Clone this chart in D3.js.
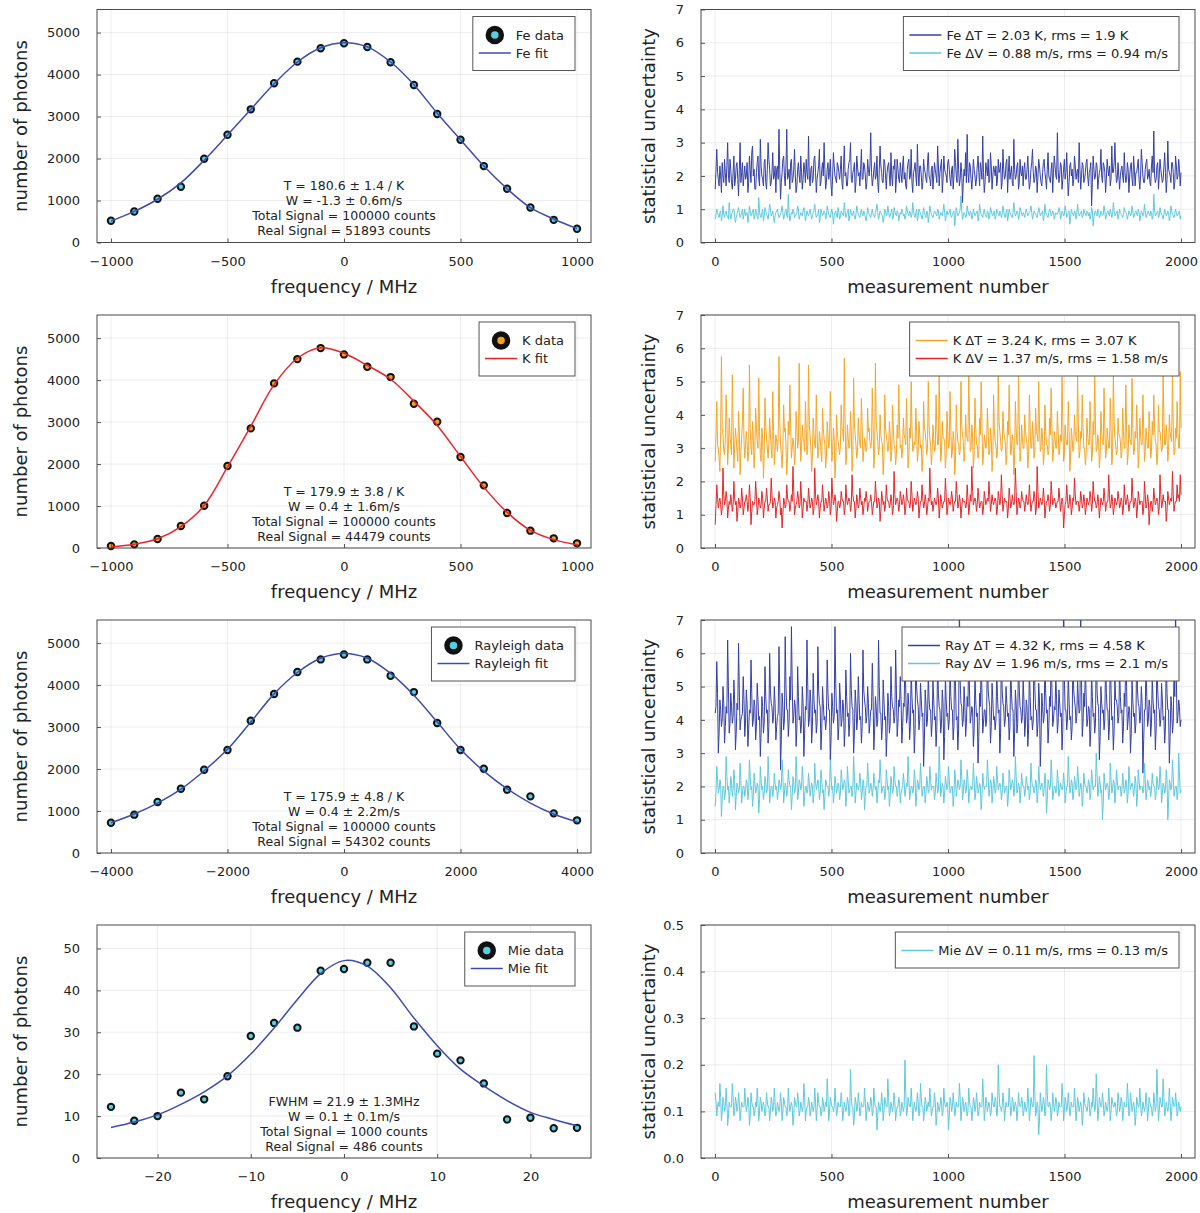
<!DOCTYPE html>
<html>
<head>
<meta charset="utf-8">
<script src="https://cdn.jsdelivr.net/npm/d3@7"></script>
<style>
body { margin: 0; background: #fff; }
text { font-family: "DejaVu Sans", sans-serif; }
</style>
</head>
<body>
<script>
const width = 1200
const height = 1213

// ---- spectra (left column) ----
const feFreq = [-1000,-900,-800,-700,-600,-500,-400,-300,-200,-100,0,100,200,300,400,500,600,700,800,900,1000]
const feData = [517,739,1041,1327,1995,2568,3172,3792,4308,4626,4746,4658,4293,3752,3060,2448,1820,1280,835,540,326]
const feFit  = [510,740,1030,1420,1960,2560,3170,3780,4300,4640,4760,4660,4300,3760,3080,2450,1820,1280,830,560,330]

const kFreq = [-1000,-900,-800,-700,-600,-500,-400,-300,-200,-100,0,100,200,300,400,500,600,700,800,900,1000]
const kData = [48,87,214,524,1008,1952,2849,3921,4500,4762,4611,4317,4071,3437,3008,2167,1492,833,413,230,111]
const kFit  = [30,90,220,510,1010,1930,2900,3890,4520,4770,4640,4350,4020,3500,2920,2180,1450,850,420,200,80]

const rayFreq = [-4000,-3600,-3200,-2800,-2400,-2000,-1600,-1200,-800,-400,0,400,800,1200,1600,2000,2400,2800,3200,3600,4000]
const rayData = [722,913,1214,1532,1984,2452,3151,3786,4310,4611,4730,4611,4222,3833,3095,2452,2008,1508,1349,944,778]
const rayFit  = [720,930,1190,1520,1960,2470,3120,3790,4300,4640,4750,4640,4280,3760,3120,2470,1950,1530,1190,930,740]

const mieFreq = [-25,-22.5,-20,-17.5,-15,-12.5,-10,-7.5,-5,-2.5,0,2.5,5,7.5,10,12.5,15,17.5,20,22.5,25]
const mieData = [12.2,8.9,10.0,15.6,14.0,19.5,29.1,32.2,31.1,44.7,45.1,46.6,46.6,31.4,24.9,23.3,17.8,9.2,9.6,7.1,7.2]
const mieFit  = [7.3,8.6,10.3,12.8,15.8,19.6,24.8,31.0,37.8,44.0,47.1,45.8,40.6,33.4,26.8,21.2,17.2,13.7,10.9,9.2,7.7]

const feNotes  = ['T = 180.6 ± 1.4 / K', 'W = -1.3 ± 0.6m/s', 'Total Signal = 100000 counts', 'Real Signal = 51893 counts']
const kNotes   = ['T = 179.9 ± 3.8 / K', 'W = 0.4 ± 1.6m/s', 'Total Signal = 100000 counts', 'Real Signal = 44479 counts']
const rayNotes = ['T = 175.9 ± 4.8 / K', 'W = 0.4 ± 2.2m/s', 'Total Signal = 100000 counts', 'Real Signal = 54302 counts']
const mieNotes = ['FWHM = 21.9 ± 1.3MHz', 'W = 0.1 ± 0.1m/s', 'Total Signal = 1000 counts', 'Real Signal = 486 counts']

// ---- uncertainty series (right column), sampled along measurement number 1..2000 ----
const feDT = [
1.6,2.2,2.8,2.1,1.9,1.7,2.3,2.0,1.5,2.4,2.0,1.8,2.5,2.1,1.7,2.3,3.0,2.0,1.8,2.5,
2.2,1.8,1.6,2.1,2.6,1.7,1.9,2.3,2.4,1.9,1.4,2.2,3.0,1.8,2.1,2.4,1.7,2.0,2.3,1.9,
2.0,2.4,1.5,1.8,2.6,2.2,1.8,2.7,2.9,2.0,2.2,1.6,1.6,2.1,2.4,2.6,1.9,1.7,3.1,2.3,
2.0,1.9,1.7,2.4,2.5,1.8,1.6,2.2,3.0,2.5,2.2,1.7,1.8,2.1,2.7,1.9,2.0,2.3,1.5,2.2,
2.3,1.9,3.4,2.2,1.3,1.8,2.1,2.5,2.6,2.0,1.7,2.3,3.4,1.9,2.0,2.2,1.6,2.4,2.5,1.8,
1.9,2.2,2.8,2.0,1.5,1.7,2.2,2.4,2.0,1.8,2.6,2.1,1.6,1.9,2.4,2.2,1.8,2.5,2.1,1.9,
3.2,2.0,1.7,2.2,2.3,1.8,1.9,2.5,2.6,2.1,1.5,1.9,2.1,2.3,2.8,1.7,1.8,2.2,2.4,2.0,
3.0,2.2,1.6,1.8,2.2,2.4,1.9,2.1,2.5,1.7,1.4,2.0,2.7,2.3,2.0,1.9,1.8,2.4,2.3,2.1,
1.9,2.2,2.6,1.8,1.6,2.3,2.9,2.0,2.1,1.7,1.7,2.2,2.4,2.5,3.0,1.9,1.8,2.1,2.2,2.4,
1.5,1.8,2.6,2.3,2.0,2.1,1.7,2.2,2.8,1.9,1.9,2.4,2.3,2.0,1.6,1.8,2.5,2.2,2.0,2.3,
3.3,2.1,1.7,1.9,2.2,2.4,1.9,2.0,2.6,1.8,1.5,2.2,2.9,2.3,2.1,1.8,1.8,2.5,2.4,2.0,
1.6,2.1,2.3,2.4,2.0,1.7,2.7,2.0,1.7,2.3,2.2,2.5,1.5,1.9,2.5,2.2,1.9,1.8,2.4,2.1,
1.8,2.3,2.6,1.9,2.1,1.7,1.6,2.2,2.4,2.5,1.9,2.0,2.8,1.8,1.5,2.1,2.2,2.4,2.0,1.7,
2.95,2.1,1.7,2.3,2.3,2.0,1.6,1.8,2.5,2.2,2.1,1.9,1.8,2.4,2.7,2.0,1.9,1.7,2.2,2.3,
1.6,2.0,2.4,2.2,2.0,1.8,2.9,2.3,1.7,2.1,2.3,2.5,1.5,1.9,2.6,2.2,2.1,2.0,1.8,2.4,
2.5,2.2,1.9,1.7,2.2,2.3,1.6,2.0,2.8,2.4,2.0,1.8,3.1,2.2,1.7,1.9,2.4,2.1,1.2,1.8,
2.2,2.0,2.7,1.8,3.25,2.1,1.8,2.4,2.3,1.9,1.6,2.0,2.5,2.2,2.0,1.7,1.9,2.3,2.6,2.1,
1.7,2.4,2.2,1.9,3.2,2.1,1.5,1.8,2.4,2.2,2.0,2.5,1.8,1.9,2.7,2.3,1.6,2.0,2.3,2.2,
2.0,2.3,1.7,1.9,2.5,2.1,2.2,2.4,1.6,1.8,2.8,2.2,1.9,2.0,2.4,2.5,1.5,2.1,2.6,1.9,
2.1,2.3,1.8,1.7,3.1,2.2,1.9,2.0,2.3,2.4,1.6,1.8,2.5,2.1,2.0,2.3,1.7,2.2,2.4,1.9,
1.9,2.2,2.6,2.0,1.6,1.8,2.2,2.4,2.8,2.1,1.8,1.9,2.3,2.2,1.5,2.0,2.5,2.3,2.0,1.8,
1.7,2.1,2.4,2.5,2.1,1.9,1.6,2.2,2.7,2.0,1.9,1.8,2.2,2.4,1.5,2.1,2.6,2.3,2.0,1.9,
3.3,2.2,1.8,2.0,2.4,2.3,1.6,1.9,2.2,2.5,1.9,2.1,2.7,2.0,1.4,1.8,2.3,2.4,2.0,2.2,
1.7,1.9,2.6,2.3,1.9,2.1,2.2,1.8,3.0,2.2,1.6,2.0,2.4,2.3,1.8,1.9,2.1,2.4,2.5,2.0,
1.7,2.1,2.2,2.4,1.1,1.8,2.6,2.2,1.9,2.0,2.4,2.3,1.6,1.9,2.1,2.2,2.8,2.0,1.8,2.4,
2.3,2.1,1.5,1.9,2.5,2.2,2.0,2.3,1.7,1.9,2.9,2.1,2.1,2.4,3.0,2.2,1.8,1.9,2.4,2.0,
1.6,2.0,2.2,2.3,2.0,1.8,2.7,2.1,1.8,1.9,2.4,2.2,1.5,2.0,2.3,2.4,1.9,1.7,2.6,2.2,
1.7,2.1,2.1,2.3,2.5,1.9,1.6,2.0,2.8,2.4,2.0,1.8,1.8,2.2,2.4,2.5,1.9,2.0,2.2,1.8,
1.7,2.3,2.6,2.1,3.35,2.0,1.8,1.9,2.3,2.4,1.6,2.0,2.5,2.2,2.0,1.8,1.9,2.3,2.7,2.1,
1.5,1.9,3.05,2.2,2.1,2.0,1.8,2.4,2.4,2.1,1.6,1.8,2.6,2.3,1.9,2.0,2.5,2.2,1.7,2.1]

const feDV = [
0.7,0.85,1.0,0.9,0.8,0.75,0.9,0.95,0.65,0.8,1.1,0.85,0.75,0.9,0.95,0.8,0.8,0.7,1.2,0.9,
0.7,0.85,0.9,1.0,1.0,0.8,0.6,0.75,0.85,0.95,1.05,0.9,0.75,0.8,0.9,1.0,0.7,0.85,1.0,0.8,
0.85,0.9,0.6,0.75,1.1,0.95,0.8,0.85,0.95,1.0,0.7,0.8,1.0,0.9,0.75,0.7,1.35,0.9,0.8,0.75,
0.9,1.0,0.65,0.8,1.05,0.95,0.85,0.8,0.7,0.9,1.15,1.0,0.8,0.85,0.95,0.75,0.6,0.8,0.9,0.95,
1.0,0.85,0.75,0.8,0.85,0.95,1.1,0.9,0.7,0.8,0.95,1.0,0.8,0.75,1.45,0.9,0.65,0.8,0.9,0.85,
1.0,0.95,0.75,0.8,0.85,0.9,1.1,1.0,0.7,0.8,0.9,0.85,0.8,0.95,1.05,0.9,0.65,0.8,0.95,0.85,
0.8,0.9,1.0,0.85,0.7,0.8,0.9,0.95,1.15,0.9,0.75,0.8,0.85,1.0,0.6,0.75,1.0,0.9,0.8,0.85,
0.95,0.9,0.7,0.8,1.1,0.95,0.85,0.8,0.75,0.9,1.0,0.85,0.55,0.8,0.9,0.95,0.8,0.75,1.05,0.9,
0.7,0.8,0.95,0.9,0.85,0.8,1.2,0.95,0.75,0.85,0.9,1.0,0.65,0.8,1.0,0.9,0.8,0.85,0.95,0.75,
0.7,0.85,1.1,0.95,0.85,0.8,0.75,0.9,1.0,0.85,0.8,0.95,0.9,0.75,0.65,0.8,1.05,0.9,0.85,0.8,
0.75,0.9,1.0,0.85,0.8,0.75,0.9,1.0,1.15,0.9,0.7,0.8,0.95,0.9,0.85,0.8,0.6,0.75,1.0,0.95,
0.8,0.85,1.1,0.9,0.75,0.8,0.9,1.0,0.7,0.75,1.05,0.95,0.85,0.8,0.95,0.9,0.65,0.8,0.9,0.85,
1.0,0.9,0.8,0.85,0.7,0.8,1.1,0.95,0.85,0.8,0.95,0.9,0.75,0.85,1.2,0.95,0.8,0.75,0.9,1.0,
0.65,0.8,1.0,0.95,0.85,0.8,0.7,0.85,1.05,0.9,0.8,0.75,0.95,0.9,0.6,0.8,1.1,0.95,0.85,0.8,
0.75,0.85,0.95,0.9,0.85,0.8,1.0,0.95,0.7,0.8,0.9,0.85,0.8,0.95,1.15,0.9,0.65,0.8,0.95,0.85,
0.85,0.9,1.0,0.8,0.75,0.85,0.9,0.95,0.5,0.75,1.05,0.9,0.8,0.85,0.9,1.0,1.4,0.95,0.7,0.8,
0.9,0.85,0.75,0.8,1.1,0.95,0.85,0.8,0.95,0.9,0.7,0.8,1.0,0.9,0.8,0.85,0.9,0.95,0.65,0.8,
1.15,0.95,0.85,0.8,0.75,0.9,1.0,0.85,0.8,0.75,0.95,0.9,0.7,0.8,1.05,0.95,0.85,0.8,0.9,0.95,
0.7,0.8,1.0,0.9,0.85,0.8,0.95,0.9,0.75,0.85,1.1,0.95,0.8,0.75,0.9,1.0,0.65,0.8,1.0,0.9,
0.85,0.8,0.75,0.9,1.2,0.95,0.8,0.85,0.95,0.9,0.7,0.8,1.05,0.95,0.85,0.8,0.9,0.85,0.75,0.9,
1.0,0.9,0.8,0.85,0.9,0.95,1.1,0.9,0.7,0.8,0.95,0.9,0.85,0.8,0.75,0.9,1.05,0.95,0.8,0.85,
0.9,0.95,0.65,0.8,1.15,0.9,0.85,0.8,0.75,0.9,1.0,0.95,0.8,0.85,0.95,0.9,0.7,0.8,0.9,0.85,
0.85,0.9,1.05,0.95,0.7,0.8,0.95,0.9,0.8,0.85,1.1,0.95,0.75,0.8,0.9,0.95,0.55,0.75,1.0,0.9,
0.85,0.8,0.95,0.9,0.7,0.85,1.15,0.9,0.8,0.85,0.9,0.95,0.75,0.8,1.0,0.9,0.85,0.8,0.95,0.9,
0.8,0.9,0.7,0.8,1.05,0.95,0.5,0.75,0.9,0.95,0.85,0.8,1.0,0.9,0.75,0.8,0.95,0.9,0.8,0.85,
1.1,0.95,0.7,0.8,0.9,0.95,0.85,0.8,1.0,0.9,0.75,0.85,1.2,0.95,0.8,0.85,0.9,0.95,0.7,0.8,
1.0,0.9,0.85,0.8,0.75,0.85,1.05,0.95,0.9,0.85,0.7,0.8,0.95,0.9,0.8,0.85,1.1,0.95,0.75,0.8,
0.9,0.95,0.85,0.8,1.0,0.9,0.65,0.8,0.95,0.9,0.8,0.85,1.15,0.95,0.75,0.8,0.9,0.95,0.85,0.8,
0.95,0.9,0.7,0.8,1.45,0.95,0.8,0.85,0.9,0.95,0.75,0.8,1.05,0.9,0.85,0.8,0.7,0.85,1.0,0.9,
0.8,0.85,0.95,0.9,0.65,0.8,1.1,0.95,0.85,0.8,0.75,0.85,1.0,0.9,0.8,0.85,0.9,0.95,0.7,0.8]

const kDT = [
2.6,3.4,4.4,3.1,3.0,2.7,2.3,3.5,5.75,3.6,3.4,2.9,2.8,3.3,4.6,3.9,2.5,3.0,3.9,3.4,
3.1,2.8,5.2,3.7,2.4,3.0,3.6,3.3,2.9,2.6,4.1,3.5,2.2,2.9,3.3,3.8,4.8,3.2,2.7,3.1,
3.5,3.2,2.6,2.9,5.5,3.6,3.0,2.8,3.8,3.4,2.4,2.9,4.2,3.6,3.2,3.0,5.1,3.5,2.8,2.6,
3.6,3.3,2.1,2.8,4.5,3.7,3.3,3.0,2.7,3.1,3.9,3.4,3.0,2.7,4.7,3.5,2.5,2.9,3.4,3.2,
2.9,3.3,5.75,3.8,3.1,2.8,2.4,3.0,4.3,3.5,3.6,3.1,2.2,2.7,3.8,3.4,4.9,3.6,2.7,3.0,
3.3,3.1,2.5,2.8,4.1,3.6,3.0,3.2,5.55,3.7,2.6,3.0,3.7,3.3,3.2,2.9,4.4,3.6,2.8,3.1,
5.5,3.7,3.4,3.0,2.3,2.8,3.9,3.4,3.1,3.0,4.6,3.5,2.7,2.9,3.5,3.3,2.9,2.6,4.2,3.6,
3.3,3.1,2.4,2.7,3.8,3.4,3.0,3.2,4.7,3.6,2.6,2.9,3.6,3.3,2.1,2.6,4.0,3.5,3.2,3.0,
2.8,3.1,4.3,3.6,3.5,3.2,5.7,3.9,2.5,2.8,3.7,3.3,3.0,3.1,4.1,3.5,2.3,2.8,5.1,3.7,
3.4,3.1,2.7,2.9,3.9,3.4,3.1,3.0,4.5,3.6,2.6,2.9,3.3,3.2,2.9,3.0,4.2,3.5,3.6,3.2,
3.0,3.2,4.8,3.7,2.4,2.8,5.55,3.8,3.5,3.2,2.8,3.0,4.0,3.4,3.2,3.1,2.2,2.7,4.6,3.6,
3.4,3.2,2.9,3.0,3.8,3.4,2.6,2.9,4.3,3.6,3.1,3.0,2.5,2.8,3.7,3.3,4.9,3.7,3.0,3.1,
2.7,3.0,3.9,3.4,3.3,3.1,4.5,3.5,2.4,2.8,3.6,3.3,5.0,3.6,2.9,3.0,3.2,3.1,4.2,3.5,
2.6,2.9,3.8,3.4,3.0,3.1,2.3,2.7,4.4,3.6,3.5,3.2,2.8,3.0,5.0,3.7,3.3,3.1,2.5,2.9,
3.7,3.3,2.9,3.0,4.6,3.6,3.1,3.1,5.2,3.7,2.6,2.9,3.8,3.3,3.3,3.2,2.4,2.8,4.1,3.5,
3.0,3.1,4.7,3.6,2.7,2.9,3.5,3.3,2.2,2.7,4.3,3.5,3.2,3.1,2.8,2.9,5.0,3.7,3.4,3.2,
2.6,2.9,4.0,3.4,3.3,3.2,5.3,3.8,2.9,3.0,3.7,3.3,2.4,2.8,4.5,3.6,3.1,3.1,2.7,2.9,
3.9,3.4,5.0,3.7,2.5,2.8,3.4,3.2,3.0,3.1,4.2,3.5,2.8,2.9,3.6,3.3,2.3,2.7,4.6,3.6,
3.2,3.1,2.7,2.9,5.25,3.8,3.5,3.2,2.9,3.0,4.1,3.5,3.3,3.2,2.5,2.8,3.8,3.4,4.9,3.6,
2.8,3.0,3.4,3.2,2.2,2.7,4.4,3.6,3.1,3.1,5.2,3.8,2.6,2.9,3.7,3.3,3.0,3.0,4.0,3.5,
3.3,3.1,2.4,2.8,4.6,3.6,3.0,3.0,3.8,3.4,2.7,2.9,4.2,3.5,3.4,3.2,5.0,3.7,2.9,3.0,
3.6,3.3,2.5,2.8,4.3,3.5,3.1,3.1,2.8,2.9,3.9,3.4,4.8,3.6,2.6,2.9,3.5,3.3,3.0,3.0,
4.1,3.5,2.8,3.0,3.4,3.2,5.15,3.8,2.6,2.8,3.7,3.3,3.1,3.1,4.4,3.6,2.3,2.7,3.6,3.3,
2.9,3.0,4.0,3.5,3.3,3.2,5.2,3.7,2.7,2.9,3.5,3.3,4.6,3.6,3.0,3.0,2.5,2.8,3.9,3.4,
3.1,3.1,4.4,3.6,2.6,2.8,3.8,3.4,5.2,3.7,2.9,3.0,3.4,3.2,2.4,2.8,4.1,3.5,3.2,3.1,
4.8,3.6,2.7,2.9,3.6,3.3,3.0,3.0,4.5,3.6,2.5,2.8,5.3,3.8,3.3,3.1,2.8,2.9,3.9,3.4,
3.4,3.2,2.7,2.9,4.2,3.5,3.0,3.0,4.9,3.7,2.5,2.8,3.7,3.3,3.2,3.1,5.1,3.7,2.8,2.9,
3.5,3.3,4.3,3.5,2.4,2.8,3.9,3.4,3.1,3.1,4.6,3.6,2.6,2.9,3.6,3.3,3.0,3.0,4.1,3.5,
2.7,2.9,3.8,3.4,4.6,3.6,3.2,3.1,2.5,2.8,4.3,3.5,3.5,3.2,2.9,3.0,5.25,3.8,3.1,3.1,
3.7,3.3,2.6,2.9,4.0,3.5,3.3,3.2,5.2,3.7,2.8,2.9,3.6,3.3,4.4,3.5,3.0,3.0,5.3,3.6]

const kDV = [
0.7,1.3,1.9,1.5,1.2,1.4,1.5,1.3,1.0,1.2,2.4,1.6,1.3,1.4,1.7,1.5,0.9,1.2,1.4,1.3,
1.6,1.4,1.1,1.3,2.0,1.5,1.3,1.4,0.8,1.1,1.5,1.4,1.2,1.3,1.8,1.5,1.0,1.2,1.4,1.4,
1.6,1.4,1.1,1.3,1.9,1.5,0.7,1.1,1.4,1.3,1.3,1.4,2.0,1.6,1.0,1.2,1.5,1.4,1.2,1.3,
1.7,1.5,0.9,1.2,1.4,1.4,1.8,1.5,1.1,1.3,1.3,1.4,2.1,1.6,1.2,1.3,1.5,1.4,0.9,1.2,
1.3,1.4,1.7,1.5,1.0,1.2,0.6,1.0,1.5,1.4,1.2,1.3,1.9,1.5,1.4,1.4,1.1,1.3,1.6,1.4,
2.45,1.7,1.0,1.2,1.3,1.4,1.7,1.5,1.2,1.3,2.0,1.5,0.9,1.2,1.5,1.4,1.4,1.4,1.1,1.3,
1.8,1.5,1.2,1.3,1.5,1.4,1.0,1.2,2.4,1.6,1.3,1.4,1.6,1.4,0.9,1.2,1.4,1.4,1.9,1.5,
1.1,1.3,1.5,1.4,1.2,1.3,1.7,1.5,1.0,1.2,2.1,1.6,1.3,1.4,1.6,1.4,0.8,1.1,1.4,1.4,
1.2,1.3,1.7,1.5,1.4,1.4,1.0,1.2,1.9,1.5,1.3,1.4,1.5,1.4,1.1,1.3,2.2,1.6,1.4,1.4,
0.9,1.2,1.6,1.4,1.2,1.3,1.8,1.5,1.3,1.4,1.0,1.2,1.5,1.4,1.7,1.5,1.1,1.3,1.4,1.4,
1.6,1.4,1.0,1.2,1.4,1.4,2.0,1.6,1.2,1.3,1.5,1.4,0.8,1.1,1.7,1.5,1.3,1.4,1.1,1.3,
1.9,1.5,1.4,1.4,1.2,1.3,1.6,1.4,1.0,1.2,2.3,1.6,1.3,1.4,1.5,1.4,1.1,1.3,1.7,1.5,
1.3,1.4,1.6,1.4,1.0,1.2,1.8,1.5,1.4,1.4,1.2,1.3,2.0,1.6,1.1,1.3,1.5,1.4,1.3,1.4,
1.7,1.5,0.9,1.2,1.4,1.4,1.9,1.5,1.2,1.3,1.6,1.4,1.0,1.2,1.5,1.4,2.4,1.6,1.3,1.4,
1.1,1.3,1.5,1.4,1.3,1.4,1.8,1.5,0.9,1.2,1.6,1.4,1.2,1.3,1.4,1.4,2.1,1.6,1.0,1.2,
1.5,1.4,1.3,1.4,1.7,1.5,1.1,1.3,1.4,1.4,2.0,1.6,1.2,1.3,1.6,1.4,0.9,1.2,1.5,1.4,
1.4,1.4,1.2,1.3,1.9,1.5,1.0,1.2,1.6,1.4,2.45,1.7,1.3,1.4,1.5,1.4,1.1,1.3,1.8,1.5,
1.2,1.3,1.4,1.4,1.0,1.2,1.7,1.5,1.3,1.4,1.5,1.4,2.0,1.6,1.1,1.3,1.6,1.4,1.3,1.4,
1.5,1.4,1.0,1.2,1.7,1.5,1.3,1.4,2.2,1.6,1.1,1.3,1.5,1.4,1.4,1.4,0.9,1.2,1.8,1.5,
1.2,1.3,1.6,1.4,1.3,1.4,2.4,1.7,1.0,1.2,1.5,1.4,1.2,1.3,1.7,1.5,1.4,1.4,1.1,1.3,
1.6,1.4,1.3,1.4,1.9,1.5,1.1,1.3,1.4,1.4,1.7,1.5,1.0,1.2,2.45,1.7,1.2,1.3,1.5,1.4,
1.3,1.4,1.8,1.5,0.9,1.2,1.4,1.4,1.6,1.4,1.1,1.3,2.0,1.6,1.3,1.4,1.5,1.4,1.2,1.3,
1.4,1.4,1.8,1.5,1.1,1.3,1.5,1.4,0.6,1.0,1.3,1.4,1.9,1.5,1.2,1.3,1.6,1.4,1.0,1.2,
1.5,1.4,2.1,1.6,1.3,1.4,1.4,1.4,1.1,1.3,1.7,1.5,1.2,1.3,1.6,1.4,1.0,1.2,1.5,1.4,
1.3,1.4,1.7,1.5,1.1,1.3,2.0,1.6,1.4,1.4,1.2,1.3,1.6,1.4,0.9,1.2,1.5,1.4,1.3,1.4,
1.8,1.5,1.1,1.3,1.4,1.4,2.2,1.6,1.2,1.3,1.6,1.4,1.0,1.2,1.5,1.4,1.3,1.4,1.7,1.5,
1.2,1.3,1.5,1.4,1.0,1.2,1.9,1.5,1.3,1.4,1.6,1.4,1.1,1.3,1.4,1.4,2.1,1.6,1.2,1.3,
1.5,1.4,0.9,1.2,1.7,1.5,1.3,1.4,1.4,1.4,1.0,1.2,2.0,1.6,1.2,1.3,1.6,1.4,0.7,1.1,
1.4,1.4,1.1,1.3,1.8,1.5,1.3,1.4,1.5,1.4,1.0,1.2,2.2,1.6,1.2,1.3,1.6,1.4,1.4,1.4,
0.8,1.1,1.7,1.5,1.3,1.4,1.5,1.4,2.3,1.6,1.1,1.3,1.4,1.4,1.9,1.5,1.6,1.4,2.2,1.6]

const rayDT = [
4.2,4.4,5.75,4.8,3.0,3.6,4.6,4.3,3.8,4.0,5.0,4.5,3.3,3.8,4.4,4.2,6.4,5.0,3.6,3.9,
4.8,4.4,3.9,4.1,5.2,4.6,3.1,3.6,4.5,4.3,6.3,4.9,3.7,4.0,4.1,4.2,5.3,4.6,3.5,3.9,
4.9,4.5,3.2,3.7,4.3,4.2,5.8,4.8,3.8,4.0,4.6,4.4,3.4,3.8,5.1,4.6,4.0,4.1,2.9,3.6,
4.7,4.4,3.6,3.9,5.6,4.7,4.2,4.3,3.3,3.8,6.0,4.9,4.5,4.4,3.9,4.1,5.0,4.5,3.4,3.8,
4.1,4.2,6.2,4.9,2.5,3.4,4.8,4.4,3.7,4.0,6.5,5.0,4.3,4.3,3.5,3.9,5.3,4.6,6.8,5.1,
3.9,4.1,4.6,4.4,3.2,3.7,5.6,4.7,4.0,4.1,3.6,3.9,5.0,4.5,2.9,3.6,4.4,4.3,6.4,5.0,
3.8,4.0,4.9,4.5,3.3,3.8,5.4,4.6,4.2,4.3,3.6,3.9,6.2,4.9,4.5,4.4,3.1,3.7,5.0,4.5,
4.0,4.1,3.7,4.0,5.8,4.8,4.3,4.3,2.8,3.5,4.8,4.4,3.9,4.1,6.8,5.1,4.2,4.3,3.4,3.8,
5.1,4.6,3.8,4.0,4.6,4.4,3.2,3.7,5.5,4.7,4.1,4.2,3.5,3.9,6.0,4.9,4.4,4.3,3.0,3.6,
4.9,4.5,3.7,4.0,5.3,4.6,4.0,4.1,3.3,3.8,6.1,4.9,4.6,4.4,3.9,4.1,5.0,4.5,3.6,3.9,
4.3,4.3,5.7,4.7,3.1,3.7,4.7,4.4,3.8,4.0,6.4,5.0,4.2,4.2,3.4,3.8,5.2,4.6,4.0,4.1,
2.9,3.6,4.8,4.4,3.6,3.9,5.6,4.7,4.4,4.3,3.9,4.1,6.1,4.9,3.5,3.9,4.6,4.4,5.3,4.6,
3.3,3.8,4.5,4.4,6.0,4.9,3.9,4.1,4.8,4.4,3.4,3.8,5.5,4.7,4.2,4.3,3.0,3.6,6.05,5.0,
4.6,4.4,3.7,4.0,5.1,4.6,4.1,4.2,2.6,3.4,4.9,4.5,3.8,4.0,5.4,4.6,4.3,4.3,3.5,3.9,
5.2,4.6,4.0,4.1,3.2,3.7,5.9,4.8,4.4,4.3,3.6,3.9,4.9,4.5,2.8,3.5,5.3,4.6,4.1,4.2,
3.7,4.0,5.6,4.7,4.3,4.3,3.4,3.8,6.4,5.0,4.0,4.1,3.1,3.7,7.6,5.2,4.5,4.4,3.8,4.0,
5.0,4.5,3.5,3.9,4.7,4.4,6.0,4.9,3.9,4.1,4.4,4.3,3.2,3.7,5.4,4.6,4.1,4.2,2.7,3.5,
4.8,4.4,5.8,4.8,3.6,3.9,4.3,4.3,3.8,4.0,6.2,4.9,4.6,4.4,3.3,3.8,5.1,4.6,4.0,4.1,
3.7,4.0,5.5,4.7,4.2,4.3,3.0,3.6,6.3,4.9,4.5,4.4,3.8,4.0,5.0,4.5,4.1,4.2,3.4,3.8,
5.7,4.8,4.3,4.3,2.9,3.6,4.9,4.5,3.6,3.9,6.0,4.9,4.4,4.3,3.9,4.1,5.2,4.6,3.5,3.9,
4.6,4.4,3.2,3.7,5.6,4.7,4.0,4.1,3.7,4.0,6.4,5.0,4.3,4.3,3.5,3.9,5.1,4.6,2.6,3.4,
4.8,4.4,3.9,4.1,5.8,4.8,4.2,4.3,3.3,3.8,4.7,4.4,6.2,4.9,3.8,4.0,4.4,4.3,5.3,4.6,
3.6,3.9,4.9,4.5,4.1,4.2,3.1,3.7,7.8,5.3,4.3,4.3,3.7,4.0,5.4,4.6,4.0,4.1,3.4,3.8,
6.0,4.9,4.6,4.4,3.9,4.1,5.2,4.6,4.2,4.3,7.3,5.2,3.5,3.9,4.8,4.4,5.7,4.7,3.8,4.0,
4.4,4.3,3.2,3.7,5.5,4.7,4.1,4.2,3.6,3.9,6.3,4.9,4.5,4.4,2.8,3.5,5.0,4.5,4.2,4.3,
3.7,4.0,5.8,4.8,4.3,4.3,3.4,3.8,6.1,4.9,4.0,4.1,3.1,3.7,5.3,4.6,4.6,4.4,3.9,4.1,
5.6,4.7,4.2,4.3,3.3,3.8,4.8,4.4,6.4,5.0,3.7,4.0,4.4,4.3,3.0,3.6,5.2,4.6,4.1,4.2,
3.6,3.9,6.2,4.9,4.5,4.4,3.9,4.1,5.0,4.5,2.4,3.4,4.3,4.3,5.7,4.7,3.8,4.0,4.6,4.4,
3.5,3.9,5.3,4.6,4.2,4.3,3.1,3.7,6.0,4.9,4.4,4.3,3.8,4.0,5.1,4.6,4.0,4.1,3.3,3.8,
5.9,4.8,4.3,4.3,2.7,3.5,4.7,4.4,3.6,3.9,5.5,4.7,7.5,5.2,3.9,4.1,4.6,4.4,3.8,4.0]

const rayDV = [
1.4,1.8,2.6,2.2,1.8,1.9,2.2,2.1,1.1,1.6,2.0,2.0,1.6,1.8,2.9,2.3,1.9,2.0,1.5,1.8,
2.3,2.1,1.7,1.9,2.5,2.2,1.3,1.7,2.1,2.0,1.8,1.9,2.7,2.2,1.5,1.8,2.0,2.0,1.7,1.9,
2.2,2.1,1.6,1.8,2.8,2.3,1.9,2.0,1.4,1.7,2.4,2.1,1.8,1.9,2.1,2.0,1.2,1.6,2.6,2.2,
1.9,2.0,1.6,1.8,2.3,2.1,1.8,1.9,2.9,2.3,1.5,1.8,2.0,2.0,1.7,1.9,2.4,2.1,1.9,2.0,
1.6,1.8,2.2,2.1,1.9,2.0,2.8,2.3,1.5,1.8,2.1,2.0,1.7,1.9,2.5,2.2,2.0,2.0,1.3,1.7,
2.3,2.1,1.8,1.9,2.9,2.3,1.6,1.8,2.2,2.1,1.9,2.0,2.6,2.2,1.4,1.7,2.0,2.0,1.8,1.9,
2.4,2.1,1.7,1.9,2.1,2.0,1.5,1.8,2.7,2.2,1.9,2.0,2.2,2.1,1.6,1.8,2.5,2.2,1.8,1.9,
1.3,1.7,2.2,2.1,2.0,2.0,1.7,1.9,2.8,2.3,1.9,2.0,1.5,1.8,2.3,2.1,1.8,1.9,2.1,2.0,
1.6,1.8,2.5,2.2,1.9,2.0,2.2,2.1,1.4,1.7,2.6,2.2,1.8,1.9,2.0,2.0,1.7,1.9,2.9,2.3,
1.5,1.8,2.1,2.0,1.9,2.0,2.4,2.1,1.6,1.8,2.2,2.1,1.3,1.7,2.0,2.0,2.7,2.2,1.8,1.9,
2.1,2.0,1.7,1.9,2.4,2.1,1.9,2.0,1.5,1.8,2.2,2.1,2.8,2.3,1.8,1.9,2.0,2.0,1.6,1.8,
2.5,2.2,1.9,2.0,1.4,1.7,2.3,2.1,1.8,1.9,2.6,2.2,2.0,2.0,1.7,1.9,2.2,2.1,1.5,1.8,
1.9,2.0,2.4,2.1,1.7,1.9,2.1,2.0,2.9,2.3,1.6,1.8,2.0,2.0,1.8,1.9,2.5,2.2,1.4,1.7,
2.2,2.1,1.9,2.0,2.7,2.2,1.7,1.9,2.0,2.0,1.5,1.8,2.3,2.1,1.8,1.9,2.6,2.2,1.9,2.0,
2.0,2.0,1.6,1.8,2.4,2.1,1.8,1.9,3.2,2.4,1.7,1.9,2.1,2.0,1.5,1.8,2.3,2.1,1.9,2.0,
2.6,2.2,1.8,1.9,2.0,2.0,1.4,1.7,2.5,2.2,1.7,1.9,2.2,2.1,1.9,2.0,2.8,2.3,1.6,1.8,
2.2,2.1,1.8,1.9,2.5,2.2,1.5,1.8,2.0,2.0,1.9,2.0,2.7,2.2,1.6,1.8,2.3,2.1,1.8,1.9,
2.1,2.0,1.3,1.7,2.4,2.1,1.9,2.0,2.0,2.0,2.8,2.3,1.7,1.9,2.2,2.1,1.5,1.8,2.3,2.1,
1.8,1.9,2.6,2.2,1.9,2.0,2.1,2.0,1.6,1.8,2.4,2.1,1.8,1.9,2.0,2.0,1.4,1.7,2.5,2.2,
1.9,2.0,2.2,2.1,1.7,1.9,2.9,2.3,1.8,1.9,2.1,2.0,1.5,1.8,2.4,2.1,2.0,2.0,1.7,1.9,
2.3,2.1,1.9,2.0,1.6,1.8,2.7,2.2,2.0,2.0,1.8,1.9,2.2,2.1,1.5,1.8,2.6,2.2,1.9,2.0,
2.1,2.0,1.7,1.9,2.4,2.1,1.2,1.6,2.2,2.1,1.9,2.0,2.8,2.3,1.6,1.8,2.0,2.0,1.8,1.9,
2.5,2.2,1.7,1.9,2.1,2.0,1.9,2.0,2.4,2.1,1.5,1.8,2.0,2.0,2.9,2.3,1.8,1.9,2.2,2.1,
1.6,1.8,2.3,2.1,1.9,2.0,2.6,2.2,1.7,1.9,2.1,2.0,1.4,1.7,2.4,2.1,2.0,2.0,1.8,1.9,
2.2,2.1,1.6,1.8,2.5,2.2,1.9,2.0,2.0,2.0,3.0,2.4,1.7,1.9,2.3,2.1,1.8,1.9,1.0,1.5,
2.4,2.1,1.9,2.0,2.1,2.0,1.6,1.8,2.7,2.2,1.8,1.9,2.2,2.1,1.5,1.8,2.5,2.2,1.9,2.0,
2.0,2.0,1.7,1.9,2.4,2.1,1.8,1.9,2.2,2.1,1.5,1.8,2.6,2.2,1.9,2.0,2.1,2.0,1.7,1.9,
2.3,2.1,1.4,1.7,2.5,2.2,1.9,2.0,2.0,2.0,1.8,1.9,2.7,2.2,1.6,1.8,2.2,2.1,1.9,2.0,
1.7,1.9,2.4,2.1,2.0,2.0,1.6,1.8,2.3,2.1,1.9,2.0,2.6,2.2,1.5,1.8,2.1,2.0,1.8,1.9,
2.5,2.2,1.0,1.5,2.2,2.1,1.9,2.0,2.8,2.3,1.7,1.9,2.0,2.0,1.6,1.8,3.0,2.4,1.8,1.9]

const mieDV = [
0.14,0.12,0.09,0.11,0.12,0.11,0.16,0.13,0.08,0.10,0.13,0.12,0.10,0.11,0.15,0.12,0.07,0.09,0.12,0.11,
0.11,0.11,0.16,0.13,0.09,0.10,0.13,0.12,0.10,0.11,0.14,0.12,0.08,0.10,0.12,0.11,0.11,0.11,0.15,0.12,
0.10,0.11,0.13,0.12,0.07,0.09,0.14,0.12,0.11,0.11,0.09,0.10,0.12,0.11,0.15,0.12,0.08,0.10,0.13,0.12,
0.10,0.11,0.12,0.11,0.09,0.10,0.14,0.12,0.11,0.11,0.08,0.10,0.13,0.12,0.10,0.11,0.15,0.12,0.09,0.10,
0.12,0.11,0.10,0.11,0.14,0.12,0.08,0.10,0.13,0.12,0.11,0.11,0.09,0.10,0.15,0.12,0.10,0.11,0.12,0.11,
0.07,0.09,0.13,0.12,0.11,0.11,0.14,0.12,0.09,0.10,0.12,0.11,0.10,0.11,0.16,0.13,0.08,0.10,0.11,0.11,
0.13,0.12,0.09,0.10,0.12,0.11,0.10,0.11,0.15,0.12,0.08,0.10,0.14,0.12,0.11,0.11,0.09,0.10,0.13,0.12,
0.10,0.11,0.12,0.11,0.17,0.13,0.08,0.10,0.13,0.12,0.11,0.11,0.10,0.11,0.15,0.12,0.09,0.10,0.12,0.11,
0.11,0.11,0.14,0.12,0.08,0.10,0.12,0.11,0.10,0.11,0.13,0.12,0.09,0.10,0.19,0.13,0.11,0.11,0.07,0.09,
0.13,0.12,0.10,0.11,0.14,0.12,0.09,0.10,0.12,0.11,0.11,0.11,0.15,0.12,0.08,0.10,0.12,0.11,0.10,0.11,
0.13,0.12,0.09,0.10,0.15,0.12,0.11,0.11,0.06,0.09,0.12,0.11,0.10,0.11,0.14,0.12,0.08,0.10,0.13,0.12,
0.11,0.11,0.17,0.13,0.09,0.10,0.12,0.11,0.10,0.11,0.14,0.12,0.08,0.10,0.11,0.11,0.13,0.12,0.09,0.10,
0.12,0.11,0.10,0.11,0.21,0.14,0.09,0.10,0.13,0.12,0.11,0.11,0.15,0.12,0.08,0.10,0.12,0.11,0.10,0.11,
0.14,0.12,0.09,0.10,0.16,0.13,0.11,0.11,0.08,0.10,0.13,0.12,0.10,0.11,0.12,0.11,0.15,0.12,0.09,0.10,
0.11,0.11,0.14,0.12,0.07,0.09,0.12,0.11,0.10,0.11,0.13,0.12,0.09,0.10,0.15,0.12,0.11,0.11,0.12,0.11,
0.06,0.09,0.13,0.12,0.10,0.11,0.14,0.12,0.09,0.10,0.12,0.11,0.11,0.11,0.16,0.13,0.08,0.10,0.13,0.12,
0.10,0.11,0.12,0.11,0.09,0.10,0.15,0.12,0.11,0.11,0.08,0.10,0.13,0.12,0.10,0.11,0.14,0.12,0.09,0.10,
0.12,0.11,0.11,0.11,0.17,0.13,0.08,0.10,0.13,0.12,0.10,0.11,0.12,0.11,0.09,0.10,0.14,0.12,0.11,0.11,
0.13,0.12,0.09,0.10,0.20,0.14,0.11,0.11,0.10,0.11,0.14,0.12,0.08,0.10,0.12,0.11,0.11,0.11,0.15,0.12,
0.09,0.10,0.13,0.12,0.10,0.11,0.12,0.11,0.08,0.10,0.14,0.12,0.11,0.11,0.13,0.12,0.09,0.10,0.12,0.11,
0.10,0.11,0.15,0.12,0.08,0.10,0.13,0.12,0.11,0.11,0.22,0.14,0.09,0.10,0.12,0.11,0.05,0.08,0.14,0.12,
0.10,0.11,0.13,0.12,0.09,0.10,0.20,0.14,0.11,0.11,0.12,0.11,0.08,0.10,0.14,0.12,0.10,0.11,0.13,0.12,
0.09,0.10,0.12,0.11,0.11,0.11,0.16,0.13,0.08,0.10,0.13,0.12,0.10,0.11,0.14,0.12,0.09,0.10,0.12,0.11,
0.11,0.11,0.15,0.12,0.08,0.10,0.13,0.12,0.10,0.11,0.12,0.11,0.07,0.09,0.14,0.12,0.11,0.11,0.10,0.11,
0.13,0.12,0.09,0.10,0.12,0.11,0.15,0.12,0.10,0.11,0.18,0.13,0.08,0.10,0.13,0.12,0.11,0.11,0.14,0.12,
0.09,0.10,0.12,0.11,0.10,0.11,0.15,0.12,0.08,0.10,0.13,0.12,0.11,0.11,0.12,0.11,0.09,0.10,0.14,0.12,
0.10,0.11,0.13,0.12,0.08,0.10,0.12,0.11,0.11,0.11,0.16,0.13,0.09,0.10,0.14,0.12,0.10,0.11,0.12,0.11,
0.07,0.09,0.13,0.12,0.11,0.11,0.15,0.12,0.09,0.10,0.12,0.11,0.10,0.11,0.14,0.12,0.08,0.10,0.13,0.12,
0.11,0.11,0.09,0.10,0.14,0.12,0.10,0.11,0.19,0.13,0.08,0.10,0.13,0.12,0.11,0.11,0.17,0.13,0.09,0.10,
0.12,0.11,0.10,0.11,0.15,0.12,0.08,0.10,0.13,0.12,0.11,0.11,0.14,0.12,0.09,0.10,0.12,0.11,0.10,0.11]

// ---- ticks and labels ----
const feTicksX = [-1000,-500,0,500,1000]
const rayTicksX = [-4000,-2000,0,2000,4000]
const mieTicksX = [-20,-10,0,10,20]
const countTicks = [0,1000,2000,3000,4000,5000]
const mieCountTicks = [0,10,20,30,40,50]
const measTicks = [0,500,1000,1500,2000]
const uncTicks = [0,1,2,3,4,5,6,7]
const mieUncTicks = [0,0.1,0.2,0.3,0.4,0.5]

const feLegend = ['Fe ΔT = 2.03 K, rms = 1.9 K', 'Fe ΔV = 0.88 m/s, rms = 0.94 m/s']
const kLegend = ['K ΔT = 3.24 K, rms = 3.07 K', 'K ΔV = 1.37 m/s, rms = 1.58 m/s']
const rayLegend = ['Ray ΔT = 4.32 K, rms = 4.58 K', 'Ray ΔV = 1.96 m/s, rms = 2.1 m/s']
const mieLegend = ['Mie ΔV = 0.11 m/s, rms = 0.13 m/s']

const blue = '#3540a4'
const cyan = '#5cc9dd'
const orange = '#f5a623'
const red = '#e4262b'

const rowTop = [9.5, 315, 620, 925]
const panelH = 233
const leftX = [97, 591]
const rightX = [701, 1195]

const svg = d3.select('body')
    .append('svg')
    .attr('width', width)
    .attr('height', height)

let clipId = 0

function makePanel(row, side, xDom, yDom) {
    const [x0, x1] = side === 'left' ? leftX : rightX
    const top = rowTop[row]
    const bottom = top + panelH
    const x = d3.scaleLinear().domain(xDom).range([x0, x1])
    const y = d3.scaleLinear().domain(yDom).range([bottom, top])
    const g = svg.append('g')
    return {g, x, y, x0, x1, top, bottom}
}

function drawGrid(p, xTicks, yTicks) {
    const grid = p.g.append('g')
    grid.selectAll('.gx').data(xTicks).join('line')
        .attr('x1', d => p.x(d)).attr('x2', d => p.x(d))
        .attr('y1', p.top).attr('y2', p.bottom)
        .attr('stroke', '#000').attr('stroke-opacity', 0.07)
    grid.selectAll('.gy').data(yTicks).join('line')
        .attr('x1', p.x0).attr('x2', p.x1)
        .attr('y1', d => p.y(d)).attr('y2', d => p.y(d))
        .attr('stroke', '#000').attr('stroke-opacity', 0.07)
}

function drawAxes(p, xTicks, yTicks, yFmt, xLabel, yLabel, yLabelX) {
    // short inward ticks, labels pushed out with padding
    const ax = p.g.append('g')
        .attr('transform', `translate(0,${p.bottom})`)
        .call(d3.axisBottom(p.x).tickValues(xTicks).tickFormat(d3.format('d')).tickSizeInner(-4).tickSizeOuter(0).tickPadding(14))
    const ay = p.g.append('g')
        .attr('transform', `translate(${p.x0},0)`)
        .call(d3.axisLeft(p.y).tickValues(yTicks).tickFormat(yFmt).tickSizeInner(-4).tickSizeOuter(0).tickPadding(17))
    for (const a of [ax, ay]) {
        a.select('.domain').remove()
        a.attr('font-family', '"DejaVu Sans", sans-serif').attr('font-size', 13).attr('color', '#222')
        a.selectAll('line').attr('stroke', '#555')
    }
    p.g.append('rect')
        .attr('x', p.x0).attr('y', p.top)
        .attr('width', p.x1 - p.x0).attr('height', p.bottom - p.top)
        .attr('fill', 'none').attr('stroke', '#4a4a4a').attr('stroke-width', 1)
    p.g.append('text')
        .attr('x', (p.x0 + p.x1) / 2).attr('y', p.bottom + 50)
        .attr('text-anchor', 'middle').attr('font-size', 18).attr('fill', '#222')
        .text(xLabel)
    p.g.append('text')
        .attr('transform', `translate(${yLabelX},${(p.top + p.bottom) / 2}) rotate(-90)`)
        .attr('text-anchor', 'middle').attr('dominant-baseline', 'central')
        .attr('font-size', 18).attr('fill', '#222')
        .text(yLabel)
}

function drawLegend(p, items) {
    const lg = p.g.append('g')
    const rows = items.map((it, i) => {
        const t = lg.append('text')
            .attr('x', 43).attr('y', 18.5 + 18 * i)
            .attr('dominant-baseline', 'central')
            .attr('font-size', 13).attr('fill', '#222')
            .text(it.label)
        return t.node().getComputedTextLength()
    })
    const boxW = 43 + d3.max(rows) + 11
    const boxH = 18 + 18 * items.length
    lg.insert('rect', ':first-child')
        .attr('width', boxW).attr('height', boxH)
        .attr('fill', '#fff').attr('stroke', '#555').attr('stroke-width', 1)
    items.forEach((it, i) => {
        const cy = 18.5 + 18 * i
        if (it.kind === 'marker') {
            lg.append('circle').attr('cx', 22).attr('cy', cy).attr('r', 6.5)
                .attr('fill', it.color).attr('stroke', '#111').attr('stroke-width', 5.5)
        } else {
            lg.append('line').attr('x1', 6).attr('x2', 38).attr('y1', cy).attr('y2', cy)
                .attr('stroke', it.color).attr('stroke-width', 1.6)
        }
    })
    lg.attr('transform', `translate(${p.x1 - 16 - boxW},${p.top + 7})`)
}

function spectrumPanel(row, freq, data, fit, xTicks, yTicks, yMax, markColor, fitColor, notes, names) {
    const ext = d3.extent(freq)
    const pad = (ext[1] - ext[0]) * 0.03
    const p = makePanel(row, 'left', [ext[0] - pad, ext[1] + pad], [0, yMax])
    drawGrid(p, xTicks, yTicks)
    p.g.append('g').selectAll('circle')
        .data(d3.zip(freq, data))
        .join('circle')
            .attr('cx', d => p.x(d[0]))
            .attr('cy', d => p.y(d[1]))
            .attr('r', 3.2)
            .attr('fill', markColor)
            .attr('stroke', '#111')
            .attr('stroke-width', 2)
    const line = d3.line()
        .x(d => p.x(d[0])).y(d => p.y(d[1]))
        .curve(d3.curveCatmullRom.alpha(0.5))
    p.g.append('path')
        .attr('d', line(d3.zip(freq, fit)))
        .attr('fill', 'none').attr('stroke', fitColor).attr('stroke-width', 1.5)
    drawAxes(p, xTicks, yTicks, d3.format('d'), 'frequency / MHz', 'number of photons', 20)
    p.g.append('g').selectAll('text')
        .data(notes)
        .join('text')
            .attr('x', (p.x0 + p.x1) / 2)
            .attr('y', (d, i) => p.bottom - 57 + 15 * i)
            .attr('text-anchor', 'middle').attr('dominant-baseline', 'central')
            .attr('font-size', 12.5).attr('fill', '#222')
            .text(d => d)
    drawLegend(p, [
        {kind: 'marker', color: markColor, label: names[0]},
        {kind: 'line', color: fitColor, label: names[1]}
    ])
}

function seriesPanel(row, series, colors, labels, yTicks, yMax, yFmt) {
    const p = makePanel(row, 'right', [-60, 2060], [0, yMax])
    drawGrid(p, measTicks, yTicks)
    const id = 'clip' + (clipId++)
    p.g.append('clipPath').attr('id', id)
        .append('rect').attr('x', p.x0).attr('y', p.top)
        .attr('width', p.x1 - p.x0).attr('height', p.bottom - p.top)
    const plot = p.g.append('g').attr('clip-path', `url(#${id})`)
    series.forEach((s, k) => {
        const step = 1999 / (s.length - 1)
        const line = d3.line()
            .x((d, i) => p.x(1 + i * step))
            .y(d => p.y(d))
        plot.append('path')
            .attr('d', line(s))
            .attr('fill', 'none').attr('stroke', colors[k]).attr('stroke-width', 1)
            .attr('stroke-linejoin', 'round')
    })
    drawAxes(p, measTicks, yTicks, yFmt, 'measurement number', 'statistical uncertainty', 648)
    drawLegend(p, labels.map((l, k) => ({kind: 'line', color: colors[k], label: l})))
}

spectrumPanel(0, feFreq, feData, feFit, feTicksX, countTicks, 5550, '#55cfe4', '#3d4bb0', feNotes, ['Fe data', 'Fe fit'])
spectrumPanel(1, kFreq, kData, kFit, feTicksX, countTicks, 5550, '#f4a41c', '#e8232a', kNotes, ['K data', 'K fit'])
spectrumPanel(2, rayFreq, rayData, rayFit, rayTicksX, countTicks, 5550, '#55cfe4', '#3d4bb0', rayNotes, ['Rayleigh data', 'Rayleigh fit'])
spectrumPanel(3, mieFreq, mieData, mieFit, mieTicksX, mieCountTicks, 55.6, '#55cfe4', '#3d4bb0', mieNotes, ['Mie data', 'Mie fit'])

seriesPanel(0, [feDT, feDV], [blue, cyan], feLegend, uncTicks, 7, d3.format('d'))
seriesPanel(1, [kDT, kDV], [orange, red], kLegend, uncTicks, 7, d3.format('d'))
seriesPanel(2, [rayDT, rayDV], [blue, cyan], rayLegend, uncTicks, 7, d3.format('d'))
seriesPanel(3, [mieDV], [cyan], mieLegend, mieUncTicks, 0.5, d3.format('.1f'))
</script>
</body>
</html>
